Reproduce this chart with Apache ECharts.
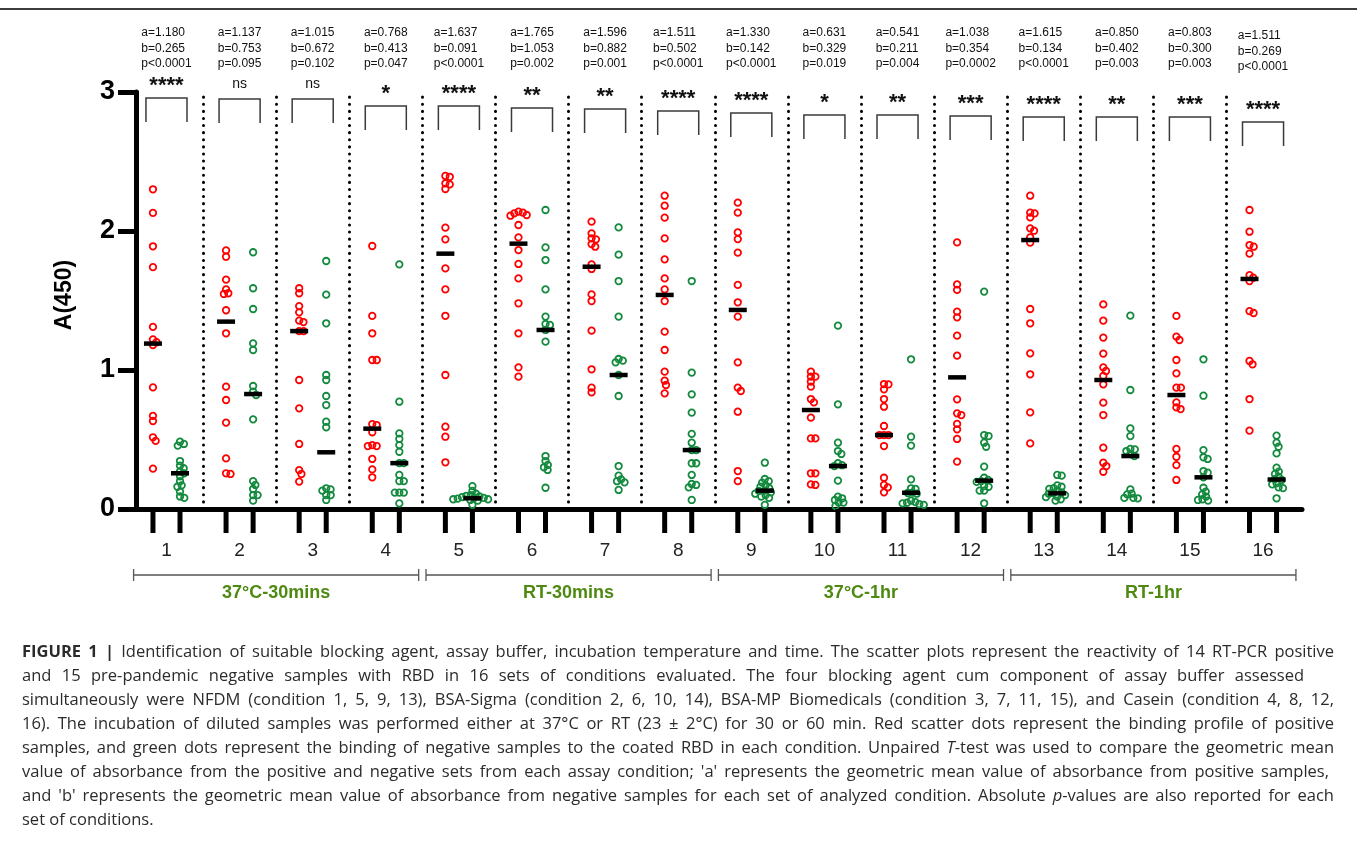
<!DOCTYPE html>
<html>
<head>
<meta charset="utf-8">
<script src="https://cdn.jsdelivr.net/npm/echarts@6/dist/echarts.min.js"></script>
<style>
  html, body { margin: 0; padding: 0; background: #fff; }
  #wrap { position: relative; width: 1357px; height: 841px; overflow: hidden; }
  #chart { position: absolute; left: 0; top: 0; width: 1357px; height: 841px; }
  #rule { position: absolute; left: 0; top: 8px; width: 1357px; height: 1.5px; background: #3c3c3c; }
  #caption { position: absolute; left: 22px; top: 639px; font-family: 'Open Sans', 'Noto Sans', sans-serif;
             font-size: 16.5px; line-height: 24px; color: #2b2b2b; }
  #caption div { white-space: nowrap; height: 24px; }
  #caption span { display: inline-block; }
</style>
</head>
<body>
<div id="wrap">
  <div id="chart"></div>
  <div id="rule"></div>
  <div id="caption">
    <div data-w="1312"><span><b>FIGURE 1 |</b> Identification of suitable blocking agent, assay buffer, incubation temperature and time. The scatter plots represent the reactivity of 14 RT-PCR positive</span></div>
    <div data-w="1282"><span>and 15 pre-pandemic negative samples with RBD in 16 sets of conditions evaluated. The four blocking agent cum component of assay buffer assessed</span></div>
    <div data-w="1312"><span>simultaneously were NFDM (condition 1, 5, 9, 13), BSA-Sigma (condition 2, 6, 10, 14), BSA-MP Biomedicals (condition 3, 7, 11, 15), and Casein (condition 4, 8, 12,</span></div>
    <div data-w="1312"><span>16). The incubation of diluted samples was performed either at 37°C or RT (23 ± 2°C) for 30 or 60 min. Red scatter dots represent the binding profile of positive</span></div>
    <div data-w="1312"><span>samples, and green dots represent the binding of negative samples to the coated RBD in each condition. Unpaired <i>T</i>-test was used to compare the geometric mean</span></div>
    <div data-w="1307"><span>value of absorbance from the positive and negative sets from each assay condition; 'a' represents the geometric mean value of absorbance from positive samples,</span></div>
    <div data-w="1312"><span>and 'b' represents the geometric mean value of absorbance from negative samples for each set of analyzed condition. Absolute <i>p</i>-values are also reported for each</span></div>
    <div><span>set of conditions.</span></div>
  </div>
</div>
<script>
// ---- Absorbance A(450) per condition: 14 RT-PCR positive sera ----
const positive1  = [2.30, 2.13, 1.89, 1.74, 1.31, 1.22, 1.20, 1.18, 0.875, 0.67, 0.633, 0.516, 0.49, 0.29];
const positive2  = [1.86, 1.815, 1.65, 1.58, 1.552, 1.547, 1.43, 1.264, 0.88, 0.784, 0.621, 0.364, 0.257, 0.252];
const positive3  = [1.588, 1.552, 1.46, 1.415, 1.355, 1.345, 1.28, 1.28, 0.928, 0.724, 0.468, 0.28, 0.252, 0.197];
const positive4  = [1.892, 1.389, 1.264, 1.072, 1.072, 0.611, 0.604, 0.552, 0.46, 0.453, 0.453, 0.36, 0.285, 0.228];
const positive5  = [2.396, 2.39, 2.343, 2.335, 2.302, 2.024, 1.94, 1.731, 1.58, 1.39, 0.964, 0.592, 0.52, 0.336];
const positive6  = [2.139, 2.132, 2.127, 2.115, 2.11, 2.043, 1.954, 1.863, 1.763, 1.659, 1.48, 1.264, 1.019, 0.952];
const positive7  = [2.067, 1.983, 1.947, 1.94, 1.906, 1.887, 1.76, 1.727, 1.544, 1.496, 1.283, 1.005, 0.873, 0.839];
const positive8  = [2.254, 2.182, 2.096, 1.947, 1.796, 1.659, 1.58, 1.496, 1.276, 1.144, 0.988, 0.923, 0.892, 0.832];
const positive9  = [2.204, 2.132, 1.99, 1.942, 1.844, 1.612, 1.487, 1.384, 1.055, 0.873, 0.849, 0.70, 0.273, 0.201];
const positive10 = [0.988, 0.952, 0.952, 0.916, 0.88, 0.791, 0.767, 0.657, 0.508, 0.508, 0.257, 0.257, 0.177, 0.173];
const positive11 = [0.899, 0.897, 0.861, 0.791, 0.736, 0.597, 0.532, 0.532, 0.532, 0.453, 0.225, 0.173, 0.156, 0.12];
const positive12 = [1.918, 1.616, 1.576, 1.42, 1.379, 1.247, 1.103, 0.789, 0.688, 0.676, 0.612, 0.573, 0.504, 0.341];
const positive13 = [2.254, 2.132, 2.127, 2.098, 2.019, 2.002, 1.954, 1.916, 1.439, 1.336, 1.12, 0.969, 0.695, 0.472];
const positive14 = [1.472, 1.355, 1.233, 1.118, 1.019, 0.993, 0.957, 0.897, 0.765, 0.676, 0.441, 0.333, 0.309, 0.268];
const positive15 = [1.389, 1.24, 1.216, 1.072, 0.976, 0.873, 0.873, 0.767, 0.731, 0.719, 0.432, 0.376, 0.316, 0.209];
const positive16 = [2.151, 1.995, 1.899, 1.887, 1.837, 1.683, 1.664, 1.64, 1.424, 1.41, 1.065, 1.041, 0.791, 0.564];

// ---- 15 pre-pandemic negative sera ----
const negative1  = [0.484, 0.468, 0.456, 0.345, 0.312, 0.293, 0.27, 0.257, 0.235, 0.2, 0.17, 0.16, 0.125, 0.09, 0.08];
const negative2  = [1.847, 1.588, 1.439, 1.192, 1.144, 0.885, 0.844, 0.82, 0.645, 0.201, 0.173, 0.144, 0.10, 0.10, 0.06];
const negative3  = [1.784, 1.542, 1.336, 0.964, 0.928, 0.813, 0.748, 0.628, 0.588, 0.149, 0.141, 0.132, 0.10, 0.10, 0.065];
const negative4  = [1.76, 0.772, 0.544, 0.504, 0.46, 0.412, 0.33, 0.33, 0.245, 0.201, 0.201, 0.118, 0.118, 0.118, 0.04];
const negative5  = [0.165, 0.13, 0.11, 0.10, 0.095, 0.09, 0.085, 0.08, 0.08, 0.075, 0.07, 0.07, 0.065, 0.06, 0.03];
const negative6  = [2.151, 1.882, 1.791, 1.58, 1.384, 1.331, 1.324, 1.288, 1.204, 0.381, 0.345, 0.317, 0.30, 0.281, 0.153];
const negative7  = [2.026, 1.83, 1.64, 1.384, 1.079, 1.067, 1.055, 0.964, 0.813, 0.309, 0.24, 0.213, 0.20, 0.192, 0.137];
const negative8  = [1.64, 0.981, 0.825, 0.693, 0.54, 0.477, 0.424, 0.424, 0.329, 0.329, 0.245, 0.18, 0.173, 0.156, 0.065];
const negative9  = [0.333, 0.216, 0.20, 0.19, 0.17, 0.16, 0.15, 0.132, 0.13, 0.12, 0.11, 0.10, 0.09, 0.08, 0.03];
const negative10 = [1.319, 0.753, 0.477, 0.417, 0.396, 0.329, 0.315, 0.309, 0.204, 0.089, 0.077, 0.065, 0.046, 0.046, 0.022];
const negative11 = [1.077, 0.52, 0.456, 0.213, 0.149, 0.145, 0.118, 0.115, 0.11, 0.06, 0.05, 0.045, 0.04, 0.035, 0.03];
const negative12 = [1.564, 0.532, 0.525, 0.477, 0.448, 0.305, 0.225, 0.209, 0.201, 0.195, 0.165, 0.16, 0.132, 0.132, 0.041];
const negative13 = [0.245, 0.24, 0.17, 0.16, 0.15, 0.145, 0.13, 0.12, 0.115, 0.11, 0.10, 0.09, 0.085, 0.07, 0.06];
const negative14 = [1.391, 0.856, 0.58, 0.525, 0.432, 0.429, 0.417, 0.395, 0.381, 0.141, 0.11, 0.105, 0.08, 0.08, 0.077];
const negative15 = [1.077, 0.815, 0.424, 0.372, 0.36, 0.273, 0.261, 0.228, 0.153, 0.125, 0.105, 0.089, 0.07, 0.065, 0.06];
const negative16 = [0.528, 0.477, 0.448, 0.40, 0.297, 0.269, 0.252, 0.233, 0.215, 0.209, 0.185, 0.177, 0.156, 0.15, 0.077];

// Median lines of each column
const positiveMedian = [1.19, 1.348, 1.28, 0.578, 1.837, 1.909, 1.743, 1.54, 1.432, 0.712, 0.532, 0.947, 1.935, 0.928, 0.82, 1.655];
const negativeMedian = [0.257, 0.827, 0.408, 0.33, 0.077, 1.288, 0.964, 0.424, 0.132, 0.309, 0.117, 0.204, 0.113, 0.381, 0.228, 0.212];

// Statistics per condition
const geoMeanA = ['1.180', '1.137', '1.015', '0.768', '1.637', '1.765', '1.596', '1.511', '1.330', '0.631', '0.541', '1.038', '1.615', '0.850', '0.803', '1.511'];
const geoMeanB = ['0.265', '0.753', '0.672', '0.413', '0.091', '1.053', '0.882', '0.502', '0.142', '0.329', '0.211', '0.354', '0.134', '0.402', '0.300', '0.269'];
const pValues  = ['<0.0001', '=0.095', '=0.102', '=0.047', '<0.0001', '=0.002', '=0.001', '<0.0001', '<0.0001', '=0.019', '=0.004', '=0.0002', '<0.0001', '=0.003', '=0.003', '<0.0001'];
const significance = ['****', 'ns', 'ns', '*', '****', '**', '**', '****', '****', '*', '**', '***', '****', '**', '***', '****'];

// Condition labels and incubation groupings
const conditionLabels = ['1', '2', '3', '4', '5', '6', '7', '8', '9', '10', '11', '12', '13', '14', '15', '16'];
const incubationNames = ['37°C-30mins', 'RT-30mins', '37°C-1hr', 'RT-1hr'];
const incubationFirst = [1, 5, 9, 13];
const incubationLast  = [4, 8, 12, 16];

// ---- layout ----
const positiveSets = [positive1, positive2, positive3, positive4, positive5, positive6, positive7, positive8,
                      positive9, positive10, positive11, positive12, positive13, positive14, positive15, positive16];
const negativeSets = [negative1, negative2, negative3, negative4, negative5, negative6, negative7, negative8,
                      negative9, negative10, negative11, negative12, negative13, negative14, negative15, negative16];

const FONT = '"Liberation Sans", Arial, Helvetica, sans-serif';
const RED = '#ff0000';
const GREEN = '#138a3e';
const LABEL_GREEN = '#4e8a12';
const GRID = { left: 136, right: 55, top: 92, bottom: 332 };
const X_MIN = 0.583, X_MAX = 16.533, Y_MAX = 3;
const PAIR_OFFSET = 0.185;              // columns sit either side of the condition centre
const PX_X = (1357 - GRID.left - GRID.right) / (X_MAX - X_MIN);
const PX_Y = (841 - GRID.top - GRID.bottom) / Y_MAX;
const bracketLevel = [2.957, 2.95, 2.95, 2.9, 2.9, 2.885, 2.878, 2.863, 2.849, 2.835, 2.835, 2.827, 2.82, 2.82, 2.82, 2.784];

// Swarm layout: spread points sideways so that rings at similar heights do not collide
function swarmOffsets(values, minDist) {
  const order = values.map((v, i) => i).sort((a, b) => values[b] - values[a]);
  const placed = [];
  const offs = new Array(values.length).fill(0);
  order.forEach(i => {
    const y = values[i] * PX_Y;
    const blocked = [];
    placed.forEach(p => {
      const dy = Math.abs(p.y - y);
      if (dy < minDist) {
        const h = Math.sqrt(minDist * minDist - dy * dy);
        blocked.push([p.x - h, p.x + h]);
      }
    });
    const cands = [0];
    blocked.forEach(b => cands.push(b[0], b[1]));
    cands.sort((a, b) => (Math.abs(a) - Math.abs(b)) || (b - a));
    let x = 0;
    for (const c of cands) {
      if (!blocked.some(b => c > b[0] + 1e-6 && c < b[1] - 1e-6)) { x = c; break; }
    }
    placed.push({ x, y });
    offs[i] = x;
  });
  return offs;
}

function columnPoints(sets, side) {
  const pts = [];
  sets.forEach((vals, g) => {
    const offs = swarmOffsets(vals, 4.5);
    vals.forEach((v, k) => pts.push([g + 1 + side * PAIR_OFFSET + offs[k] / PX_X, v]));
  });
  return pts;
}

const positivePoints = columnPoints(positiveSets, -1);
const negativePoints = columnPoints(negativeSets, 1);
const medianMarks = [];
positiveMedian.forEach((m, g) => medianMarks.push([g + 1 - PAIR_OFFSET, m]));
negativeMedian.forEach((m, g) => medianMarks.push([g + 1 + PAIR_OFFSET, m]));

const separators = [];
for (let g = 1; g < conditionLabels.length; g++) separators.push({ xAxis: g + 0.5 });

// text measurement for left-aligned stat blocks
const measureCtx = document.createElement('canvas').getContext('2d');
measureCtx.font = '12px ' + FONT;

function renderCondition(params, api) {
  const g = api.value(0);
  const idx = g - 1;
  const cx = api.coord([g, 0])[0];
  const y0 = api.coord([g, 0])[1];
  const yTop = api.coord([g, Y_MAX])[1];
  const xr = api.coord([g - PAIR_OFFSET, 0])[0];
  const xg = api.coord([g + PAIR_OFFSET, 0])[0];
  const children = [];

  // tick marks under each column
  [xr, xg].forEach(x => children.push({
    type: 'rect', shape: { x: x - 2.5, y: y0, width: 5, height: 24 }, style: { fill: '#000' }
  }));
  // condition number
  children.push({
    type: 'text', style: { text: conditionLabels[idx], x: cx, y: y0 + 42, align: 'center', verticalAlign: 'middle',
      fontSize: 19, fontFamily: FONT, fill: '#222' }
  });

  // significance bracket
  const by = api.coord([g, bracketLevel[idx]])[1];
  const bl = xr - 7, br = xg + 7;
  children.push({
    type: 'polyline', shape: { points: [[bl, by + 24], [bl, by], [br, by], [br, by + 24]] },
    style: { stroke: '#3a3a3a', lineWidth: 1.5, fill: null }
  });
  const sig = significance[idx];
  if (sig === 'ns') {
    children.push({ type: 'text', style: { text: sig, x: (bl + br) / 2, y: by - 15, align: 'center', verticalAlign: 'middle',
      fontSize: 14, fontFamily: FONT, fill: '#111' } });
  } else {
    children.push({ type: 'text', style: { text: sig, x: (bl + br) / 2, y: by - 12, align: 'center', verticalAlign: 'middle',
      fontSize: 22, fontWeight: 'bold', fontFamily: FONT, fill: '#111' } });
  }

  // statistics block
  const lines = ['a=' + geoMeanA[idx], 'b=' + geoMeanB[idx], 'p' + pValues[idx]];
  const w = Math.max(...lines.map(s => measureCtx.measureText(s).width));
  const shift = idx === conditionLabels.length - 1 ? 3 : 0;
  lines.forEach((s, k) => children.push({
    type: 'text', style: { text: s, x: cx - w / 2, y: yTop - 59 + 15.5 * k + shift, align: 'left', verticalAlign: 'middle',
      fontSize: 12, fontFamily: FONT, fill: '#111' }
  }));
  return { type: 'group', children };
}

function renderIncubation(params, api) {
  const i = api.value(0);
  const x1 = api.coord([incubationFirst[i] - 0.45, 0])[0];
  const x2 = api.coord([incubationLast[i] + 0.45, 0])[0];
  const y0 = api.coord([incubationFirst[i], 0])[1];
  const y = y0 + 66;
  return { type: 'group', children: [
    { type: 'line', shape: { x1, y1: y, x2, y2: y }, style: { stroke: '#555', lineWidth: 1.3 } },
    { type: 'line', shape: { x1, y1: y - 6, x2: x1, y2: y + 6 }, style: { stroke: '#555', lineWidth: 1.3 } },
    { type: 'line', shape: { x1: x2, y1: y - 6, x2, y2: y + 6 }, style: { stroke: '#555', lineWidth: 1.3 } },
    { type: 'text', style: { text: incubationNames[i], x: (x1 + x2) / 2, y: y + 18, align: 'center', verticalAlign: 'middle',
      fontSize: 18, fontWeight: 'bold', fontFamily: FONT, fill: LABEL_GREEN } }
  ] };
}

const chart = echarts.init(document.getElementById('chart'), null, { renderer: 'canvas' });
chart.setOption({
  animation: false,
  backgroundColor: '#fff',
  grid: GRID,
  xAxis: {
    type: 'value', min: X_MIN, max: X_MAX,
    axisLine: { show: true, onZero: false, lineStyle: { color: '#000', width: 5 } },
    axisTick: { show: false }, axisLabel: { show: false }, splitLine: { show: false }
  },
  yAxis: {
    type: 'value', min: 0, max: Y_MAX, interval: 1,
    axisLine: { show: true, lineStyle: { color: '#000', width: 5 } },
    axisTick: { show: true, length: 18, lineStyle: { color: '#000', width: 5 } },
    axisLabel: { fontSize: 27, fontWeight: 'bold', fontFamily: FONT, color: '#000', margin: 21 },
    splitLine: { show: false }
  },
  graphic: [{
    type: 'text', x: 65, y: 295, rotation: Math.PI / 2,
    style: { text: 'A(450)', fontSize: 23, fontWeight: 'bold', fontFamily: FONT, fill: '#000', align: 'center', verticalAlign: 'middle' }
  }],
  series: [
    {
      name: 'Positive', type: 'scatter', data: positivePoints, symbol: 'circle', symbolSize: 6.5,
      itemStyle: { color: 'rgba(0,0,0,0)', borderColor: RED, borderWidth: 1.8, opacity: 1 }, silent: true, z: 3
    },
    {
      name: 'Negative', type: 'scatter', data: negativePoints, symbol: 'circle', symbolSize: 6.5,
      itemStyle: { color: 'rgba(0,0,0,0)', borderColor: GREEN, borderWidth: 1.8, opacity: 1 }, silent: true, z: 3
    },
    {
      name: 'Median', type: 'scatter', data: medianMarks, symbol: 'rect', symbolSize: [18, 4.5],
      itemStyle: { color: '#000', opacity: 1 }, silent: true, z: 4,
      markLine: {
        silent: true, symbol: ['none', 'none'], label: { show: false },
        lineStyle: { color: '#000', width: 3, type: [0.1, 7], cap: 'round', opacity: 1 },
        data: separators, z: 1
      }
    },
    {
      type: 'custom', renderItem: renderCondition, clip: false, silent: true, z: 5,
      data: conditionLabels.map((c, i) => [i + 1, 0])
    },
    {
      type: 'custom', renderItem: renderIncubation, clip: false, silent: true, z: 5,
      data: incubationNames.map((n, i) => [i, 0])
    }
  ]
});

// fit each caption line to its set width
document.querySelectorAll('#caption div[data-w]').forEach(div => {
  const span = div.querySelector('span');
  const target = parseFloat(div.getAttribute('data-w'));
  const natural = span.getBoundingClientRect().width;
  const spaces = (span.textContent.match(/ /g) || []).length;
  if (spaces) span.style.wordSpacing = ((target - natural) / spaces).toFixed(3) + 'px';
});
</script>
</body>
</html>
